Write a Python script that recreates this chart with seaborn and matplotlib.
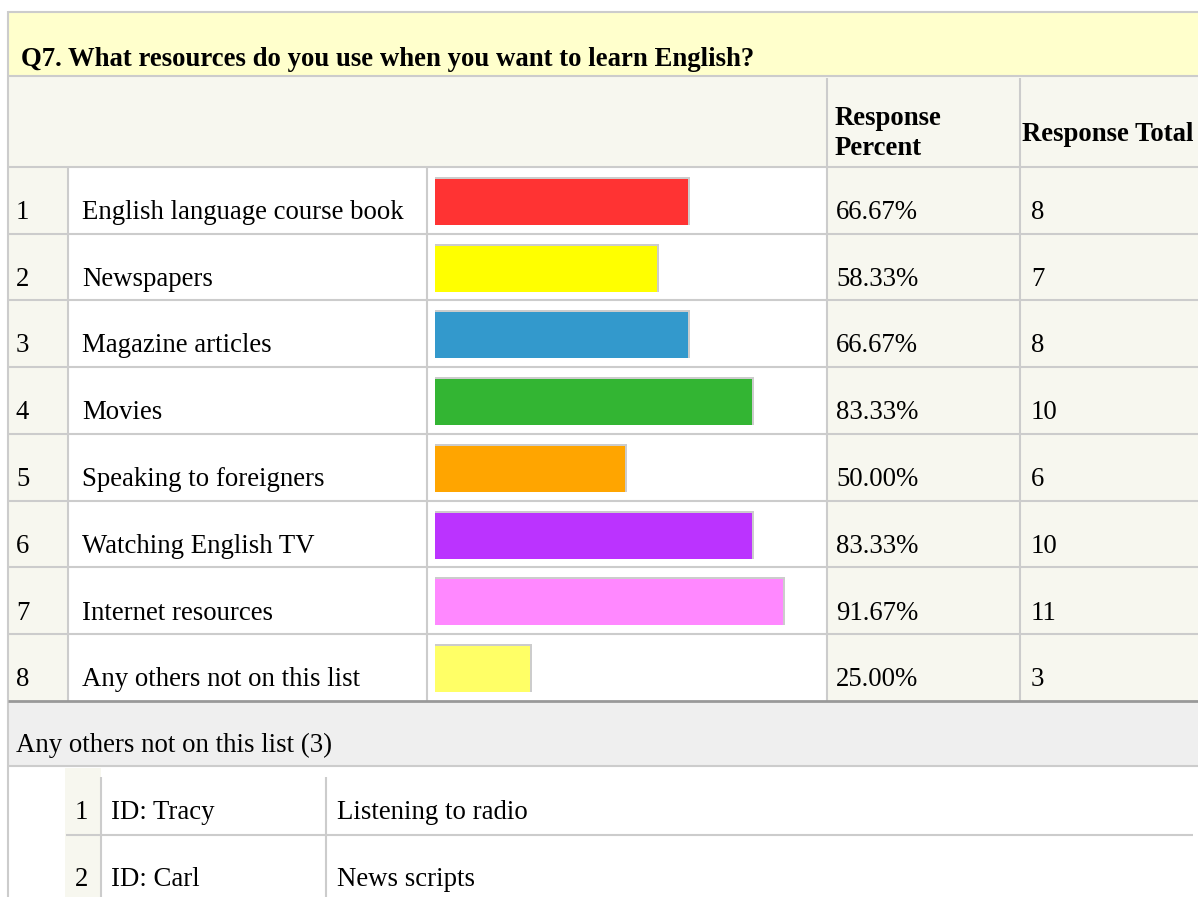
import matplotlib
matplotlib.use("Agg")
import matplotlib.pyplot as plt
from matplotlib.patches import Rectangle
import seaborn as sns

# ----------------------------------------------------------
# DATA
# ----------------------------------------------------------

question = "Q7. What resources do you use when you want to learn English?"
resources = [
    "English language course book",
    "Newspapers",
    "Magazine articles",
    "Movies",
    "Speaking to foreigners",
    "Watching English TV",
    "Internet resources",
    "Any others not on this list",
]
percents = [66.67, 58.33, 66.67, 83.33, 50.00, 83.33, 91.67, 25.00]
totals = [8, 7, 8, 10, 6, 10, 11, 3]

other_title = "Any others not on this list (3)"
other_ids = ["ID: Tracy", "ID: Carl"]
other_texts = ["Listening to radio", "News scripts"]

BAR_COLORS = ["#ff3333", "#ffff00", "#3399cc", "#33b533",
              "#ffa500", "#bb33ff", "#ff88ff", "#ffff66"]

sns.set_style("white")
plt.rcParams["font.family"] = ["Liberation Serif", "DejaVu Serif"]
plt.rcParams["text.color"] = "black"

W, H = 1198, 897
FS = 19.25
GRID = "#cccccc"
CREAM = "#f7f7ef"
LW = 1.5

fig = plt.figure(figsize=(W / 100, H / 100), dpi=100)
ax = fig.add_axes([0, 0, 1, 1])
ax.set_xlim(0, W)
ax.set_ylim(H, 0)
ax.axis("off")


def box(x0, y0, x1, y1, color):
    ax.add_patch(Rectangle((x0, y0), x1 - x0, y1 - y0, color=color, lw=0, zorder=0))


def hline(y, x0, x1, color=GRID, lw=LW):
    ax.plot([x0, x1], [y, y], color=color, lw=lw, solid_capstyle="butt", zorder=2)


def vline(x, y0, y1, color=GRID, lw=LW):
    ax.plot([x, x], [y0, y1], color=color, lw=lw, solid_capstyle="butt", zorder=2)


# ---- title band
box(8, 11, W, 76, "#ffffcc")
ax.text(21, 66, question, fontsize=FS, fontweight="bold", va="baseline")
hline(12, 8, W)
hline(76, 8, W)

# ---- header row
box(8, 76, W, 167, CREAM)
ax.text(835, 125, "Response", fontsize=FS, fontweight="bold", va="baseline")
ax.text(835, 155, "Percent", fontsize=FS, fontweight="bold", va="baseline")
ax.text(1022, 141, "Response Total", fontsize=FS, fontweight="bold", va="baseline")
vline(827, 78, 167)
vline(1020, 78, 167)

# ---- data rows
top, rh = 167, 66.75
n = len(resources)
for i, (label, pct, tot) in enumerate(zip(resources, percents, totals)):
    y0 = top + i * rh
    box(8, y0, 68, y0 + rh, CREAM)
    box(68, y0, 827, y0 + rh, "white")
    box(827, y0, W, y0 + rh, CREAM)
    base = y0 + 52
    ax.text(16, base, str(i + 1), fontsize=FS, va="baseline")
    ax.text(82, base, label, fontsize=FS, va="baseline")
    ax.text(836, base, f"{pct:.2f}%", fontsize=FS, va="baseline")
    ax.text(1031, base, str(tot), fontsize=FS, va="baseline")
    hline(y0, 8, W)
for x in (68, 427, 827, 1020):
    vline(x, top, top + n * rh)
vline(8, 11, H)

# ---- "others" band
yb = top + n * rh
box(8, yb, W, 766, "#efefef")
hline(yb, 8, W, color="#999999", lw=2)
hline(766, 8, W)
ax.text(16, 752, other_title, fontsize=FS, va="baseline")

# ---- sub table
box(65, 768, 101, H, CREAM)
for j, (oid, txt) in enumerate(zip(other_ids, other_texts)):
    base = 819 + j * 67
    ax.text(88, base, str(j + 1), fontsize=FS, va="baseline", ha="right")
    ax.text(111, base, oid, fontsize=FS, va="baseline")
    ax.text(337, base, txt, fontsize=FS, va="baseline")
hline(835, 66, 1193)
vline(101, 777, H)
vline(326, 777, H)

# ---- bars
bx0, bscale = 435, 380
btop, bbot = top + 1.5, top + n * rh + 1.5
bax = fig.add_axes([bx0 / W, 1 - bbot / H, bscale / W, (bbot - btop) / H])
sns.barplot(x=percents, y=resources, hue=resources, palette=BAR_COLORS,
            orient="h", width=46 / rh, saturation=1, legend=False,
            linewidth=0, ax=bax)
bax.set_xlim(0, 100)
bax.set_ylim(n - 0.5, -0.5)
bax.axis("off")
bax.patch.set_alpha(0)

dx = 2 * 100 / bscale
dy = 2 / rh
for p in list(bax.patches):
    p.set_zorder(2)
    bax.add_patch(Rectangle((p.get_x(), p.get_y() - dy), p.get_width() + dx,
                            p.get_height() + dy, color=GRID, lw=0, zorder=1))

fig.savefig("out.png", dpi=100)
